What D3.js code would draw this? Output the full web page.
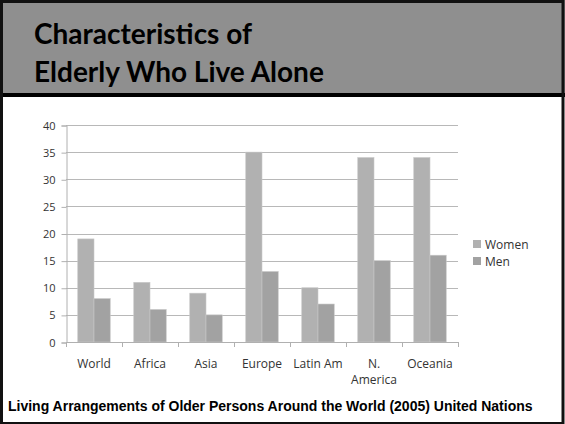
<!DOCTYPE html>
<html lang="en">
<head>
<meta charset="UTF-8">
<title>Elderly Who Live Alone</title>
<script src="https://d3js.org/d3.v7.min.js"></script>
<style>
  * { margin: 0; padding: 0; }
  body { background: #fff; }
  svg { display: block; }
</style>
</head>
<body>
<script>
  // data
  var regions = ["World", "Africa", "Asia", "Europe", "Latin Am", "N. America", "Oceania"];
  var women = [19, 11, 9, 35, 10, 34, 34];
  var men = [8, 6, 5, 13, 7, 15, 16];
  var seriesNames = ["Women", "Men"];
  var yTicks = [0, 5, 10, 15, 20, 25, 30, 35, 40];

  var W = 565, H = 424;
  var svg = d3.select("body").append("svg")
      .attr("width", W)
      .attr("height", H);

  // slide frame + header band
  svg.append("rect").attr("x", 0).attr("y", 0).attr("width", W).attr("height", H).attr("fill", "#fff");
  svg.append("rect").attr("x", 0).attr("y", 0).attr("width", W).attr("height", 95).attr("fill", "#8f8f8f");
  svg.append("rect").attr("x", 0).attr("y", 93).attr("width", W).attr("height", 4).attr("fill", "#000");
  svg.append("rect").attr("x", 1.5).attr("y", 1.5).attr("width", W - 3.5).attr("height", H - 2)
      .attr("fill", "none").attr("stroke", "#111").attr("stroke-width", 3);

  var title = svg.append("text")
      .attr("font-family", "Lato, 'Open Sans', sans-serif")
      .attr("font-weight", "bold")
      .attr("font-size", 28)
      .attr("fill", "#000");
  title.append("tspan").attr("x", 34).attr("y", 44).text("Characteristics of");
  title.append("tspan").attr("x", 34).attr("y", 82).text("Elderly Who Live Alone");

  // chart area
  var plotL = 66, plotR = 458, plotT = 125, plotB = 342;

  var x0 = d3.scaleBand().domain(regions).range([plotL, plotR]).paddingInner(0.42).paddingOuter(0.21);
  var x1 = d3.scaleBand().domain(seriesNames).range([0, x0.bandwidth()]);
  var y = d3.scaleLinear().domain([0, 40]).range([plotB, plotT]);
  var color = d3.scaleOrdinal().domain(seriesNames).range(["#b1b1b1", "#a2a2a2"]);

  var rows = regions.map(function(r, i) { return { region: r, values: [women[i], men[i]] }; });

  // gridlines
  svg.append("g").selectAll("line").data(yTicks.slice(1)).enter().append("line")
      .attr("x1", plotL).attr("x2", plotR)
      .attr("y1", function(d) { return Math.round(y(d)) + 0.5; })
      .attr("y2", function(d) { return Math.round(y(d)) + 0.5; })
      .attr("stroke", "#b8b8b8").attr("stroke-width", 1);

  // y axis
  var yAxis = svg.append("g")
      .attr("transform", "translate(" + (plotL + 0.5) + ",0.5)")
      .call(d3.axisLeft(y).tickValues(yTicks).tickSize(5).tickPadding(6));
  yAxis.select(".domain").attr("stroke", "#b0b0b0");
  yAxis.selectAll(".tick line").attr("stroke", "#b0b0b0");
  yAxis.selectAll(".tick text")
      .attr("font-family", "'Open Sans', sans-serif")
      .attr("font-size", 11)
      .attr("fill", "#333");

  // bars
  var groups = svg.append("g").selectAll("g").data(rows).enter().append("g")
      .attr("transform", function(d) { return "translate(" + x0(d.region) + ",0)"; });
  groups.selectAll("rect").data(function(d) {
      return d.values.map(function(v, j) { return { key: seriesNames[j], value: v }; });
    }).enter().append("rect")
      .attr("x", function(d) { return x1(d.key); })
      .attr("y", function(d) { return y(d.value); })
      .attr("width", x1.bandwidth())
      .attr("height", function(d) { return plotB - y(d.value); })
      .attr("fill", function(d) { return color(d.key); })
      .attr("stroke", "#c8c8c8")
      .attr("stroke-width", 0.6);

  // x axis
  var xEdges = regions.map(function(r) { return x0(r) - x0.step() * x0.paddingInner() / 2; });
  xEdges.push(plotR);
  var xAxis = svg.append("g");
  xAxis.append("line").attr("x1", plotL).attr("x2", plotR)
      .attr("y1", plotB + 0.5).attr("y2", plotB + 0.5).attr("stroke", "#b0b0b0");
  xAxis.selectAll("line.tk").data(xEdges).enter().append("line").attr("class", "tk")
      .attr("x1", function(d) { return Math.round(d) + 0.5; })
      .attr("x2", function(d) { return Math.round(d) + 0.5; })
      .attr("y1", plotB).attr("y2", plotB + 5).attr("stroke", "#b0b0b0");
  var labels = xAxis.selectAll("text").data(regions).enter().append("text")
      .attr("text-anchor", "middle")
      .attr("font-family", "'Open Sans', sans-serif")
      .attr("font-size", 12)
      .attr("fill", "#333");
  labels.each(function(d) {
    var t = d3.select(this);
    var cx = x0(d) + x0.bandwidth() / 2;
    var parts = d === "N. America" ? ["N.", "America"] : [d];
    parts.forEach(function(p, k) {
      t.append("tspan").attr("x", cx).attr("y", 368 + k * 16).text(p);
    });
  });

  // legend
  var legend = svg.append("g").selectAll("g").data(seriesNames).enter().append("g")
      .attr("transform", function(d, i) { return "translate(473," + (240 + i * 17) + ")"; });
  legend.append("rect").attr("width", 8).attr("height", 8).attr("fill", function(d) { return color(d); });
  legend.append("text").attr("x", 12).attr("y", 8.5)
      .attr("font-family", "'Open Sans', sans-serif")
      .attr("font-size", 12)
      .attr("fill", "#333")
      .text(function(d) { return d; });

  // source caption
  svg.append("text")
      .attr("x", 8).attr("y", 411)
      .attr("font-family", "'Liberation Sans', Arial, sans-serif")
      .attr("font-weight", "bold")
      .attr("font-size", 14)
      .attr("fill", "#000")
      .text("Living Arrangements of Older Persons Around the World (2005) United Nations");
</script>
</body>
</html>
